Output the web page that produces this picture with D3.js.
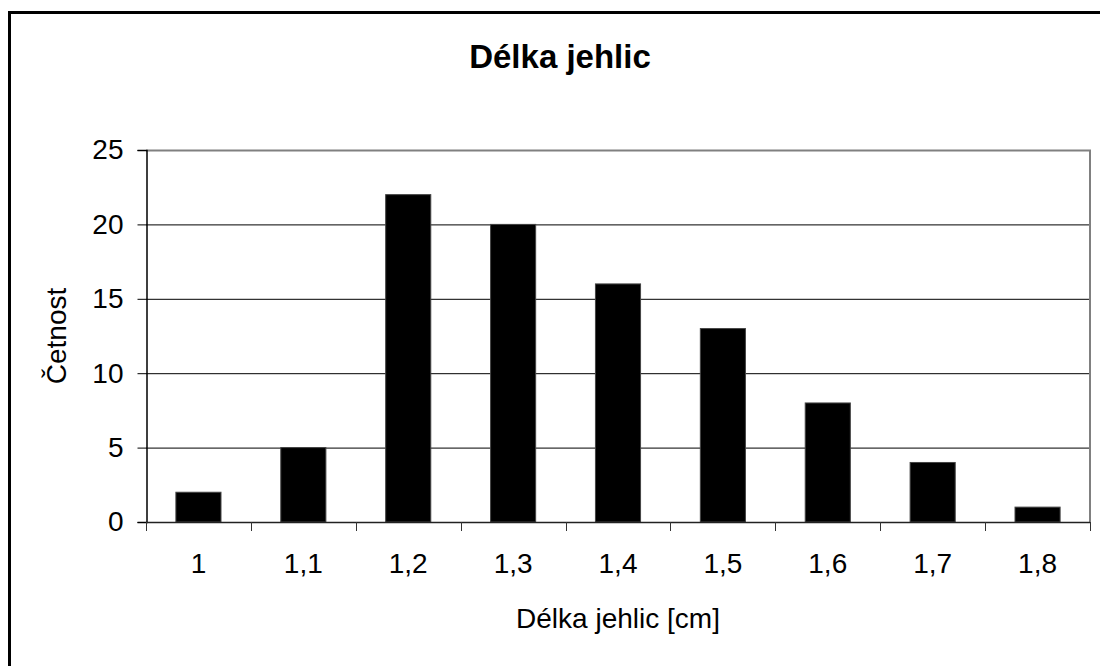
<!DOCTYPE html>
<html>
<head>
<meta charset="utf-8">
<script src="https://cdn.jsdelivr.net/npm/d3@7"></script>
<style>
  html, body { margin: 0; padding: 0; background: #fff; overflow: hidden; }
  svg { display: block; font-family: "Liberation Sans", Arial, sans-serif; }
</style>
</head>
<body>
<svg id="chart" width="1100" height="666"></svg>
<script>
// Needle length classes (cm) and how many needles fell into each
const categories = ["1", "1,1", "1,2", "1,3", "1,4", "1,5", "1,6", "1,7", "1,8"];
const counts = [2, 5, 22, 20, 16, 13, 8, 4, 1];
const yTicks = [0, 5, 10, 15, 20, 25];

const titleText = "Délka jehlic";
const xTitle = "Délka jehlic [cm]";
const yTitle = "Četnost";

const svg = d3.select("#chart");
const plot = { left: 146, right: 1090, top: 150, bottom: 522 };

// White chart background, then the left and top edges of the chart frame
svg.append("rect").attr("x", 0).attr("y", 0).attr("width", 1100).attr("height", 666).attr("fill", "#fff");
svg.append("line")
  .attr("x1", 9.5).attr("x2", 9.5).attr("y1", 11).attr("y2", 666)
  .attr("stroke", "#000").attr("stroke-width", 3);
svg.append("line")
  .attr("x1", 8).attr("x2", 1100).attr("y1", 12.5).attr("y2", 12.5)
  .attr("stroke", "#000").attr("stroke-width", 3);

const xCat = d3.scaleBand().domain(categories).range([plot.left, plot.right]).padding(0);
const xBar = d3.scaleBand().domain(categories).range([plot.left, plot.right])
  .paddingInner(0.57).paddingOuter(0.285);
const y = d3.scaleLinear().domain([0, 25]).range([plot.bottom, plot.top]);

// Horizontal gridlines
svg.append("g").selectAll("line")
  .data(yTicks.filter(t => t > 0 && t < 25))
  .join("line")
  .attr("x1", plot.left).attr("x2", plot.right)
  .attr("y1", d => y(d) + 0.5).attr("y2", d => y(d) + 0.5)
  .attr("stroke", "#000").attr("stroke-width", 1);

// Plot area top and right border
svg.append("path")
  .attr("d", `M${plot.left},${y(25) + 0.5}H${plot.right}V${plot.bottom}`)
  .attr("fill", "none").attr("stroke", "#808080").attr("stroke-width", 2);

// Bars
svg.append("g").selectAll("rect")
  .data(categories.map((c, i) => ({ c, v: counts[i] })))
  .join("rect")
  .attr("x", d => xBar(d.c))
  .attr("width", xBar.bandwidth())
  .attr("y", d => y(d.v))
  .attr("height", d => y(0) - y(d.v))
  .attr("fill", "#000")
  .attr("stroke", "#444").attr("stroke-width", 1);

// Y axis
const yAxis = svg.append("g")
  .attr("transform", `translate(${plot.left + 0.5},0)`)
  .call(d3.axisLeft(y).tickValues(yTicks).tickSize(9).tickPadding(14).tickFormat(d3.format("d")));
yAxis.select(".domain").attr("stroke", "#000").attr("stroke-width", 1.5);
yAxis.selectAll(".tick line").attr("stroke", "#000");
yAxis.selectAll(".tick text")
  .attr("font-size", 28).attr("fill", "#000")
  .attr("font-family", "Liberation Sans, Arial, sans-serif");

// X axis: baseline plus tick marks at class boundaries
svg.append("line")
  .attr("x1", plot.left).attr("x2", plot.right)
  .attr("y1", plot.bottom + 0.5).attr("y2", plot.bottom + 0.5)
  .attr("stroke", "#222").attr("stroke-width", 1.5);
const boundaries = categories.map(c => xCat(c)).concat([plot.right]);
svg.append("g").selectAll("line")
  .data(boundaries)
  .join("line")
  .attr("x1", d => Math.round(d) + 0.5).attr("x2", d => Math.round(d) + 0.5)
  .attr("y1", plot.bottom).attr("y2", plot.bottom + 9)
  .attr("stroke", "#333").attr("stroke-width", 1);

svg.append("g").selectAll("text")
  .data(categories)
  .join("text")
  .attr("x", d => xCat(d) + xCat.bandwidth() / 2)
  .attr("y", 573)
  .attr("text-anchor", "middle")
  .attr("font-size", 28)
  .text(d => d);

// Titles
svg.append("text")
  .attr("x", 560).attr("y", 68)
  .attr("text-anchor", "middle")
  .attr("font-size", 33).attr("font-weight", "bold")
  .text(titleText);

svg.append("text")
  .attr("x", (plot.left + plot.right) / 2).attr("y", 628)
  .attr("text-anchor", "middle")
  .attr("font-size", 28)
  .text(xTitle);

svg.append("text")
  .attr("transform", `translate(66,${(plot.top + plot.bottom) / 2}) rotate(-90)`)
  .attr("text-anchor", "middle")
  .attr("font-size", 28)
  .text(yTitle);
</script>
</body>
</html>
